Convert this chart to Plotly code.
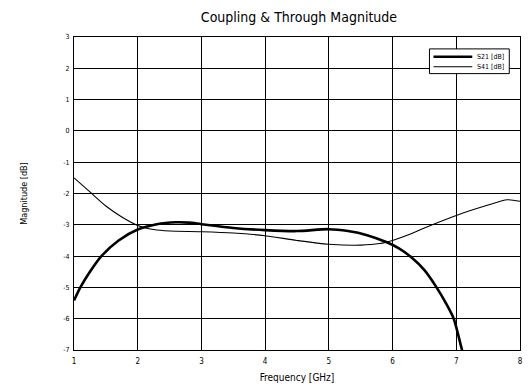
import plotly.graph_objects as go

freq_s21 = [1.0, 1.1, 1.25, 1.43, 1.7, 2.0, 2.3, 2.6, 2.8, 3.0, 3.5, 4.0, 4.5, 5.0, 5.3, 5.6, 5.9, 6.1, 6.29, 6.5, 6.69, 6.85, 6.96, 7.09, 7.15]
s21 = [-5.42, -5.0, -4.5, -4.0, -3.5, -3.15, -2.98, -2.92, -2.93, -2.98, -3.1, -3.17, -3.2, -3.14, -3.2, -3.33, -3.55, -3.75, -4.03, -4.45, -5.0, -5.55, -6.0, -7.0, -7.4]

freq_s41 = [1.0, 1.25, 1.5, 1.75, 2.0, 2.25, 2.5, 3.0, 3.5, 4.0, 4.5, 5.0, 5.5, 5.8, 6.0, 6.25, 6.5, 7.0, 7.5, 7.8, 8.0]
s41 = [-1.5, -1.95, -2.4, -2.75, -3.02, -3.15, -3.2, -3.22, -3.26, -3.35, -3.5, -3.62, -3.65, -3.6, -3.5, -3.32, -3.1, -2.7, -2.37, -2.2, -2.25]

x_ticks = [1, 2, 3, 4, 5, 6, 7, 8]
y_ticks = [3, 2, 1, 0, -1, -2, -3, -4, -5, -6, -7]
series_names = ["S21 [dB]", "S41 [dB]"]
series_widths = [2.6, 1.1]

fnt = "DejaVu Sans Condensed, DejaVu Sans, sans-serif"

fig = go.Figure()
fig.add_trace(go.Scatter(x=freq_s21, y=s21, mode="lines", name=series_names[0],
                         line=dict(color="black", width=series_widths[0], shape="spline", smoothing=0.8)))
fig.add_trace(go.Scatter(x=freq_s41, y=s41, mode="lines", name=series_names[1],
                         line=dict(color="black", width=series_widths[1], shape="spline", smoothing=0.8)))

# compact boxed legend (decoration, paper coordinates)
shapes = [dict(type="rect", xref="paper", yref="paper", x0=0.797, x1=0.976, y0=0.883, y1=0.962,
               line=dict(color="black", width=1), fillcolor="white", layer="above")]
annotations = []
legend_rows = [0.937, 0.905]
for name, w, yy in zip(series_names, series_widths, legend_rows):
    shapes.append(dict(type="line", xref="paper", yref="paper", x0=0.806, x1=0.893, y0=yy, y1=yy,
                       line=dict(color="black", width=w), layer="above"))
    annotations.append(dict(text=name, xref="paper", yref="paper", x=0.898, y=yy, xanchor="left",
                            yanchor="middle", showarrow=False,
                            font=dict(family=fnt, size=7, color="black")))

fig.update_layout(
    width=532, height=391,
    margin=dict(l=74, r=9, t=37, b=38),
    paper_bgcolor="white", plot_bgcolor="white",
    title=dict(text="Coupling & Through Magnitude", x=0.562, xanchor="center", y=0.955, yanchor="middle",
               font=dict(family=fnt, size=14, color="black")),
    showlegend=False,
    shapes=shapes,
    annotations=annotations,
    xaxis=dict(range=[1, 8], tickvals=x_ticks, ticktext=[str(v) for v in x_ticks],
               showgrid=True, gridcolor="black", gridwidth=1,
               showline=True, linecolor="black", mirror=True, linewidth=1,
               zeroline=False, ticks="", ticklabelstandoff=3,
               tickfont=dict(family=fnt, size=8, color="black"),
               title=dict(text="Frequency [GHz]", font=dict(family=fnt, size=10, color="black"), standoff=9)),
    yaxis=dict(range=[-7, 3], tickvals=y_ticks, ticktext=[str(v) for v in y_ticks],
               showgrid=True, gridcolor="black", gridwidth=1,
               showline=True, linecolor="black", mirror=True, linewidth=1,
               zeroline=False, ticks="", ticklabelstandoff=2,
               tickfont=dict(family=fnt, size=7, color="black"),
               title=dict(text="Magnitude [dB]", font=dict(family=fnt, size=9, color="black"), standoff=34)),
)

fig.write_html("out.html")
